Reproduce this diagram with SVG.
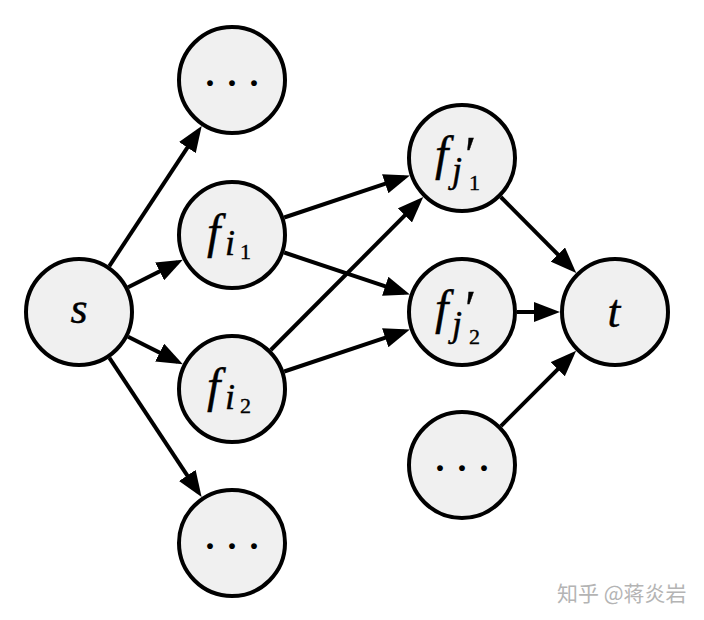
<svg xmlns="http://www.w3.org/2000/svg" width="704" height="620" viewBox="0 0 704 620">
<style>
.node{fill:#f0f0f0;stroke:#000;stroke-width:4}
.lbl{font-family:"Liberation Serif","DejaVu Serif",serif;font-style:italic;fill:#000;stroke:#000;stroke-width:0.4}
.sub{font-family:"Liberation Serif","DejaVu Serif",serif;font-style:normal;fill:#000}
.dots{font-family:"Liberation Serif",serif;font-size:36px;font-weight:bold;fill:#000}
.edge{stroke:#000;stroke-width:4;fill:none;marker-end:url(#ah)}
.wm{font-family:"Noto Sans CJK SC",sans-serif;font-size:21px;fill:#b4b4b4}
</style>
<defs>
<marker id="ah" markerUnits="userSpaceOnUse" markerWidth="26" markerHeight="20" refX="20" refY="10" orient="auto">
<path d="M0,0 L26,10 L0,20 z" fill="#000"/>
</marker>
</defs>
<rect width="704" height="620" fill="#fff"/>
<g id="connectors">
<line class="edge" x1="109.3" y1="266.1" x2="198.4" y2="130.9"/>
<line class="edge" x1="128.1" y1="287.3" x2="177.5" y2="262.4"/>
<line class="edge" x1="128.1" y1="336.7" x2="177.5" y2="361.6"/>
<line class="edge" x1="109.4" y1="357.8" x2="198.3" y2="492.1"/>
<line class="edge" x1="284.2" y1="217.5" x2="404.2" y2="177.4"/>
<line class="edge" x1="284.2" y1="252.5" x2="404.2" y2="292.6"/>
<line class="edge" x1="270.8" y1="350.0" x2="419.0" y2="201.2"/>
<line class="edge" x1="284.2" y1="371.5" x2="404.2" y2="331.4"/>
<line class="edge" x1="500.8" y1="197.0" x2="572.0" y2="268.7"/>
<line class="edge" x1="517" y1="312" x2="554" y2="312"/>
<line class="edge" x1="500.9" y1="426.1" x2="571.9" y2="355.1"/>
</g>
<g id="s">
<circle class="node" cx="79" cy="312" r="53"/>
<text class="lbl" x="79" y="323" font-size="44" text-anchor="middle">s</text>
</g>
<g id="top-dots">
<circle class="node" cx="232" cy="80" r="53"/>
<text class="dots" x="210 232 254" y="95" text-anchor="middle">···</text>
</g>
<g id="f_i1">
<circle class="node" cx="232" cy="235" r="53"/>
<text class="lbl" font-size="48"><tspan x="207" y="248">f</tspan><tspan x="225" y="255" font-size="36">i</tspan><tspan class="sub" x="240" y="259" font-size="22">1</tspan></text>
</g>
<g id="f_i2">
<circle class="node" cx="232" cy="389" r="53"/>
<text class="lbl" font-size="48"><tspan x="207" y="402">f</tspan><tspan x="225" y="409" font-size="36">i</tspan><tspan class="sub" x="240" y="413" font-size="22">2</tspan></text>
</g>
<g id="bottom-dots">
<circle class="node" cx="232" cy="543" r="53"/>
<text class="dots" x="210 232 254" y="558" text-anchor="middle">···</text>
</g>
<g id="f_j1">
<circle class="node" cx="462" cy="158" r="53"/>
<text class="lbl" font-size="48"><tspan x="435" y="170">f</tspan><tspan x="462" y="171" font-size="50">′</tspan><tspan x="452" y="182" font-size="36">j</tspan><tspan class="sub" x="469" y="190" font-size="22">1</tspan></text>
</g>
<g id="f_j2">
<circle class="node" cx="462" cy="312" r="53"/>
<text class="lbl" font-size="48"><tspan x="435" y="324">f</tspan><tspan x="462" y="325" font-size="50">′</tspan><tspan x="452" y="336" font-size="36">j</tspan><tspan class="sub" x="469" y="344" font-size="22">2</tspan></text>
</g>
<g id="br-dots">
<circle class="node" cx="462" cy="465" r="53"/>
<text class="dots" x="440 462 484" y="480" text-anchor="middle">···</text>
</g>
<g id="t">
<circle class="node" cx="615" cy="312" r="53"/>
<text class="lbl" x="614" y="327" font-size="46" text-anchor="middle">t</text>
</g>
<text class="wm" x="557" y="601">知乎 @蒋炎岩</text>
</svg>
